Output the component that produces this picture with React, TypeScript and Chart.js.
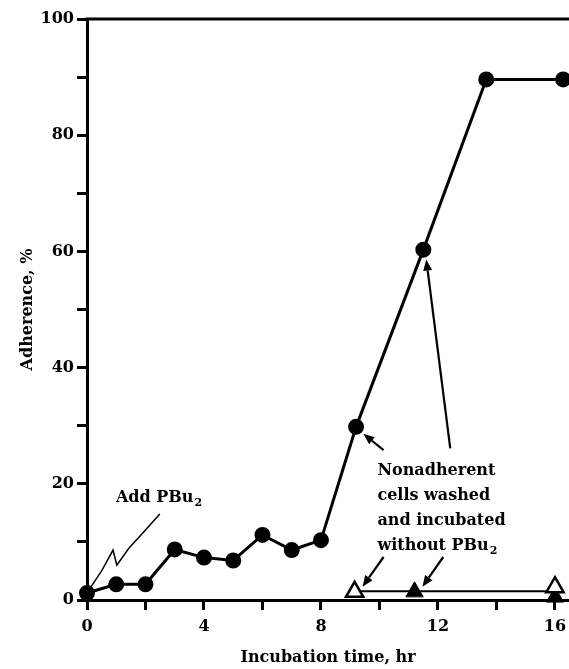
import React, { useEffect, useRef } from 'react';
import { Chart, registerables } from 'chart.js';

Chart.register(...registerables);

// ---- data ----
const hours = [0, 1, 2, 3, 4, 5, 6, 7, 8, 9.2, 11.5, 13.65, 16.28];
const adherence = [1.2, 2.7, 2.7, 8.7, 7.3, 6.8, 11.2, 8.6, 10.3, 29.8, 60.3, 89.6, 89.6];

const openTriHours = [9.15, 16.0];
const openTriValues = [1.4, 2.2];
const filledTriHours = [11.2, 16.0];
const filledTriValues = [1.4, 0.5];
const washedLineHours = [9.15, 16.0];
const washedLineValues = [1.5, 1.5];

const xTickStep = 2;
const xLabelEvery = 4;
const yTickStep = 10;
const yLabelEvery = 20;

const xTitle = 'Incubation time, hr';
const yTitle = 'Adherence, %';
const addLabel = 'Add PBu';
const noteLines = ['Nonadherent', 'cells washed', 'and incubated', 'without PBu'];

// annotation geometry (data coordinates)
const addLabelAt = { x: 0.99, y: 16.8 };
const addPointer = [
  [2.49, 14.8],
  [1.9, 11.5],
  [1.43, 8.9],
  [1.02, 6.0],
  [0.89, 8.6],
  [0.5, 5.0],
  [0.1, 2.0],
];
const noteAt = { x: 9.93, y: 21.5 };
const arrows = [
  { from: [10.14, 25.8], to: [9.45, 28.6] },
  { from: [12.42, 26.1], to: [11.6, 58.6] },
  { from: [10.14, 7.4], to: [9.42, 2.3] },
  { from: [12.18, 7.4], to: [11.47, 2.3] },
];

const FONT_FAMILY = '"DejaVu Serif", serif';

function drawWithSub(ctx: CanvasRenderingContext2D, text: string, sub: string, x: number, y: number, size: number) {
  ctx.font = `bold ${size}px ${FONT_FAMILY}`;
  ctx.fillText(text, x, y);
  const w = ctx.measureText(text).width;
  ctx.font = `bold ${Math.round(size * 0.7)}px ${FONT_FAMILY}`;
  ctx.fillText(sub, x + w + 1, y + 4);
}

function drawArrow(ctx: CanvasRenderingContext2D, x1: number, y1: number, x2: number, y2: number) {
  const ang = Math.atan2(y2 - y1, x2 - x1);
  const len = 11;
  const hw = 4.5;
  const bx = x2 - Math.cos(ang) * len;
  const by = y2 - Math.sin(ang) * len;
  ctx.beginPath();
  ctx.moveTo(x1, y1);
  ctx.lineTo(bx, by);
  ctx.stroke();
  ctx.beginPath();
  ctx.moveTo(x2, y2);
  ctx.lineTo(bx + Math.sin(ang) * hw, by - Math.cos(ang) * hw);
  ctx.lineTo(bx - Math.sin(ang) * hw, by + Math.cos(ang) * hw);
  ctx.closePath();
  ctx.fill();
}

const annotationPlugin = {
  id: 'annotations',
  afterDatasetsDraw(chart: any) {
    const ctx: CanvasRenderingContext2D = chart.ctx;
    const xs = chart.scales.x;
    const ys = chart.scales.y;
    const px = (v: number) => xs.getPixelForValue(v);
    const py = (v: number) => ys.getPixelForValue(v);
    const area = chart.chartArea;
    ctx.save();
    ctx.strokeStyle = '#000';
    ctx.fillStyle = '#000';

    // top frame line
    ctx.lineWidth = 3;
    ctx.beginPath();
    ctx.moveTo(area.left - 1.5, area.top);
    ctx.lineTo(area.right, area.top);
    ctx.stroke();

    // Add PBu2 label + wiggly pointer
    ctx.textBaseline = 'alphabetic';
    ctx.textAlign = 'left';
    drawWithSub(ctx, addLabel, '2', px(addLabelAt.x), py(addLabelAt.y), 16);
    ctx.lineWidth = 1.5;
    ctx.beginPath();
    addPointer.forEach((p, i) => {
      if (i === 0) ctx.moveTo(px(p[0]), py(p[1]));
      else ctx.lineTo(px(p[0]), py(p[1]));
    });
    ctx.stroke();

    // note text
    const lineGap = 25;
    noteLines.forEach((t, i) => {
      const x = px(noteAt.x);
      const y = py(noteAt.y) + i * lineGap;
      if (i === noteLines.length - 1) drawWithSub(ctx, t, '2', x, y, 16);
      else {
        ctx.font = `bold 16px ${FONT_FAMILY}`;
        ctx.fillText(t, x, y);
      }
    });

    // arrows
    ctx.lineWidth = 2.2;
    arrows.forEach((a) => {
      drawArrow(ctx, px(a.from[0]), py(a.from[1]), px(a.to[0]), py(a.to[1]));
    });
    ctx.restore();
  },
};

export default function App() {
  const ref = useRef<HTMLCanvasElement | null>(null);

  useEffect(() => {
    if (!ref.current) return;
    const font = { family: FONT_FAMILY, size: 16, weight: 'bold' as const };
    const chart = new Chart(ref.current, {
      type: 'scatter',
      data: {
        datasets: [
          {
            label: 'PBu2',
            data: hours.map((h, i) => ({ x: h, y: adherence[i] })),
            showLine: true,
            borderColor: '#000',
            backgroundColor: '#000',
            borderWidth: 3,
            pointRadius: 6.5,
            pointHoverRadius: 6.5,
            order: 0,
            clip: false as any,
          },
          {
            label: 'washed (open)',
            data: openTriHours.map((h, i) => ({ x: h, y: openTriValues[i] })),
            showLine: false,
            pointStyle: 'triangle',
            pointRadius: 10,
            backgroundColor: '#fff',
            borderColor: '#000',
            borderWidth: 2.5,
            order: 1,
            clip: false as any,
          },
          {
            label: 'washed (filled)',
            data: filledTriHours.map((h, i) => ({ x: h, y: filledTriValues[i] })),
            showLine: false,
            pointStyle: 'triangle',
            pointRadius: 10,
            backgroundColor: '#000',
            borderColor: '#000',
            borderWidth: 1,
            order: 2,
            clip: false as any,
          },
          {
            label: 'washed line',
            data: washedLineHours.map((h, i) => ({ x: h, y: washedLineValues[i] })),
            showLine: true,
            pointRadius: 0,
            borderColor: '#000',
            borderWidth: 2,
            order: 3,
          },
        ],
      },
      options: {
        animation: false,
        responsive: false,
        maintainAspectRatio: false,
        layout: { autoPadding: false, padding: { top: 19, right: 0, left: 0, bottom: 0 } },
        plugins: { legend: { display: false }, tooltip: { enabled: false } },
        scales: {
          x: {
            type: 'linear',
            min: 0,
            max: 16.48,
            afterFit: (s: any) => {
              s.height = 69;
              s.paddingRight = 0;
              s.paddingLeft = 0;
            },
            ticks: {
              stepSize: xTickStep,
              includeBounds: false,
              autoSkip: false,
              maxRotation: 0,
              padding: 7,
              color: '#000',
              font,
              callback: (v: any) => (Number(v) % xLabelEvery === 0 ? String(v) : ''),
            },
            grid: { drawOnChartArea: false, drawTicks: true, tickLength: 10, tickWidth: 3, tickColor: '#000' },
            border: { color: '#000', width: 3 },
            title: { display: true, text: xTitle, color: '#000', font, padding: { top: 0, bottom: 2 } },
          },
          y: {
            min: 0,
            max: 100,
            afterFit: (s: any) => {
              s.width = 87;
            },
            ticks: {
              stepSize: yTickStep,
              padding: 3,
              color: '#000',
              font,
              callback: (v: any) => (Number(v) % yLabelEvery === 0 ? String(v) : ''),
            },
            grid: { drawOnChartArea: false, drawTicks: true, tickLength: 10, tickWidth: 3, tickColor: '#000' },
            border: { color: '#000', width: 3 },
            title: { display: true, text: yTitle, color: '#000', font, padding: { top: 18, bottom: 0 } },
          },
        },
      },
      plugins: [annotationPlugin],
    });
    return () => chart.destroy();
  }, []);

  return (
    <div style={{ position: 'absolute', left: 0, top: 0, width: 569, height: 669, background: '#fff' }}>
      <canvas ref={ref} width={569} height={669} style={{ display: 'block', width: 569, height: 669 }} />
    </div>
  );
}
